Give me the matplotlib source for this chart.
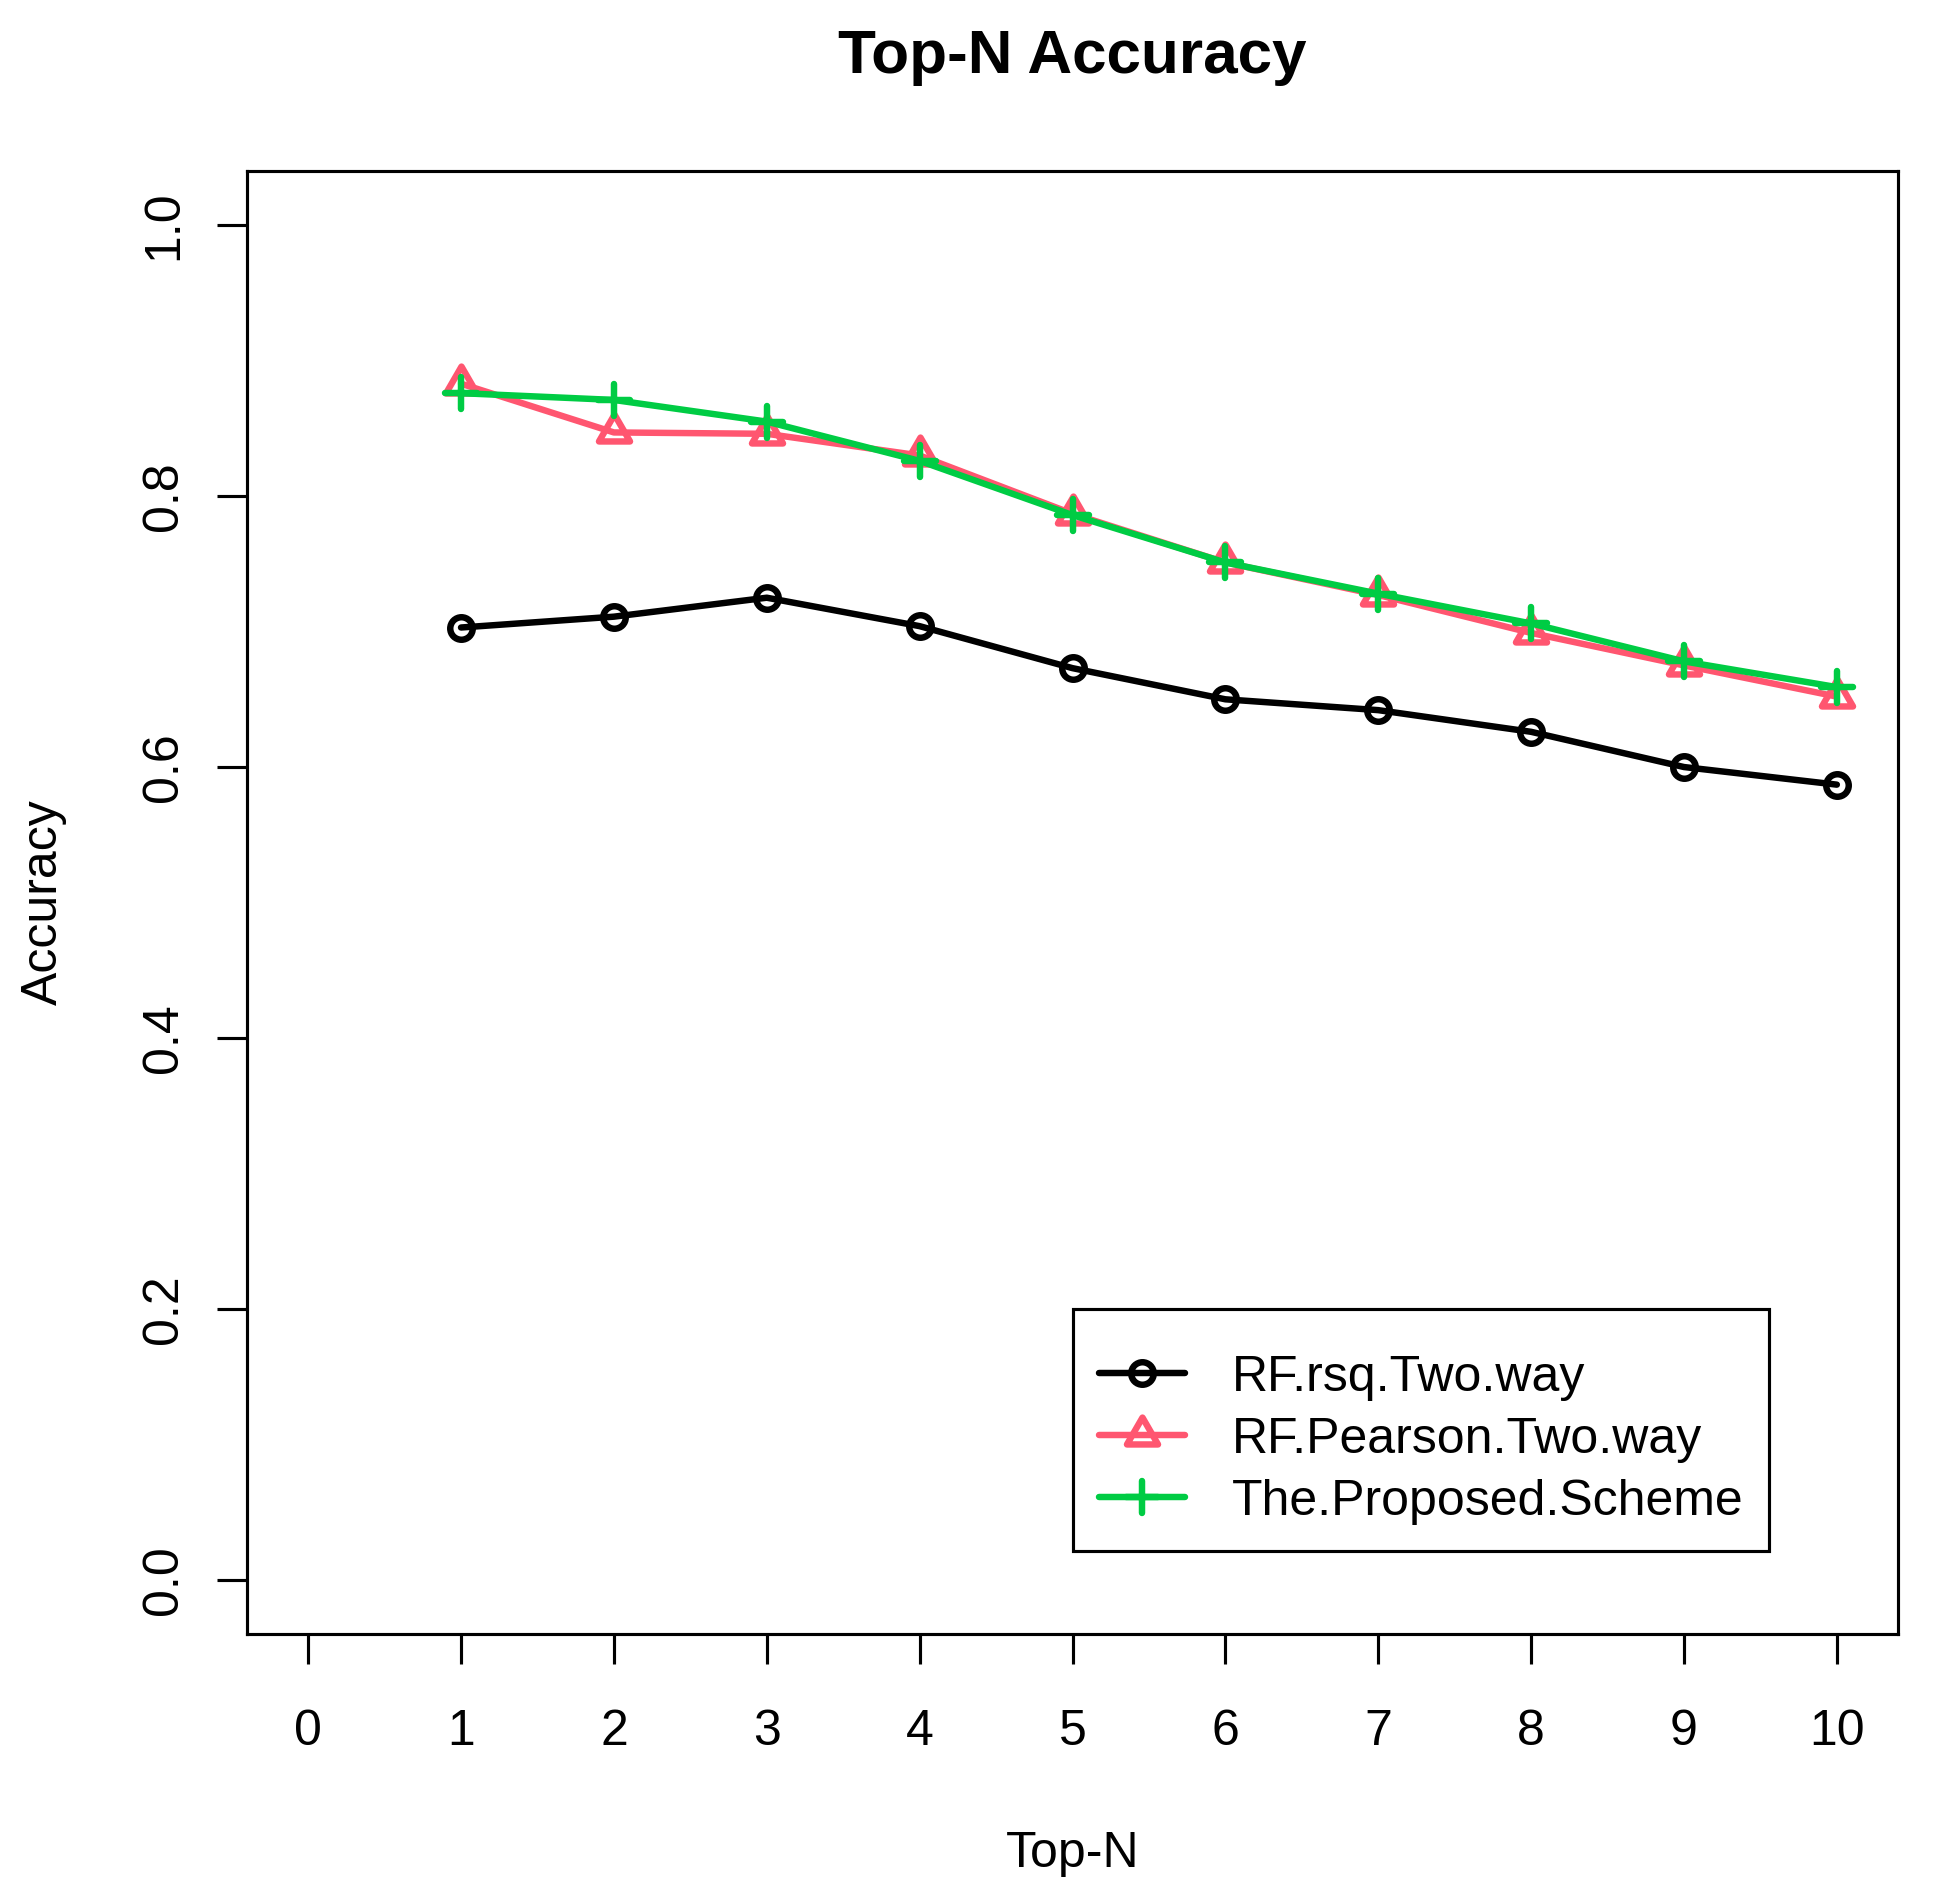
import numpy as np
import matplotlib
matplotlib.use("Agg")
import matplotlib.pyplot as plt
from matplotlib.path import Path
from matplotlib.markers import MarkerStyle

# ---- data ----
top_n = [1, 2, 3, 4, 5, 6, 7, 8, 9, 10]
rf_rsq = [0.703, 0.711, 0.725, 0.704, 0.673, 0.650, 0.642, 0.626, 0.600, 0.587]
rf_pearson = [0.883, 0.847, 0.846, 0.830, 0.787, 0.751, 0.727, 0.699, 0.675, 0.652]
proposed = [0.876, 0.871, 0.855, 0.826, 0.786, 0.751, 0.728, 0.706, 0.678, 0.659]
series_names = ["RF.rsq.Two.way", "RF.Pearson.Two.way", "The.Proposed.Scheme"]
x_ticks = [0, 1, 2, 3, 4, 5, 6, 7, 8, 9, 10]
y_ticks = [0.0, 0.2, 0.4, 0.6, 0.8, 1.0]
y_tick_labels = ["0.0", "0.2", "0.4", "0.6", "0.8", "1.0"]

plt.rcParams['font.family'] = ['Liberation Sans', 'DejaVu Sans']

DPI = 300
fig = plt.figure(figsize=(1941 / DPI, 1895 / DPI), dpi=DPI)
ax = fig.add_axes([247 / 1941, 1 - 1634 / 1895, (1898 - 247) / 1941, (1634 - 171) / 1895])

LW = 1.55
black = "#000000"
red = "#FF5670"
green = "#00CC44"

# R-style triangle (centroid at origin)
tri = MarkerStyle(Path([(0, 1.555), (1.347, -0.778), (-1.347, -0.778), (0, 1.555)],
                       [Path.MOVETO, Path.LINETO, Path.LINETO, Path.CLOSEPOLY]),
                  joinstyle='miter')
plus = MarkerStyle('+', capstyle='round')

ax.plot(top_n, rf_rsq, color=black, lw=LW, marker='o', ms=5.4, mfc='none',
        mew=LW, mec=black, solid_capstyle='round', label=series_names[0])
ax.plot(top_n, rf_pearson, color=red, lw=LW, marker=tri, ms=8.6, mfc='none',
        mew=LW, mec=red, solid_capstyle='round', label=series_names[1])
ax.plot(top_n, proposed, color=green, lw=LW, marker=plus, ms=7.7,
        mew=LW, mec=green, solid_capstyle='round', label=series_names[2])

ax.set_xlim(-0.4, 10.4)
ax.set_ylim(-0.04, 1.04)
ax.set_xticks(x_ticks)
ax.set_xticklabels([str(t) for t in x_ticks])
ax.set_yticks(y_ticks)
ax.set_yticklabels(y_tick_labels, rotation=90, va='center')

for s in ax.spines.values():
    s.set_linewidth(0.75)
    s.set_color('black')
ax.tick_params(axis='both', direction='out', length=7.2, width=0.75, labelsize=12, colors='black')
ax.tick_params(axis='x', pad=10.8)
ax.tick_params(axis='y', pad=7.2)

ax.set_xlabel("Top-N", fontsize=12)
ax.xaxis.set_label_coords(0.5, -0.1346)
ax.xaxis.label.set_va('top')
ax.set_ylabel("Accuracy", fontsize=12)
ax.yaxis.set_label_coords(-0.109, 0.5)

ax.set_title("Top-N Accuracy", fontsize=14.9, fontweight='bold', y=1.067, pad=0, va='baseline')

leg = ax.legend(loc='upper left', bbox_to_anchor=(5.0, 0.2), bbox_transform=ax.transData,
                fontsize=12, frameon=True, fancybox=False, framealpha=1, edgecolor='black',
                borderpad=0.52, borderaxespad=0, handlelength=1.72, handletextpad=0.94,
                labelspacing=0.32, numpoints=1, title=' ', title_fontsize=1.0)
leg.get_frame().set_linewidth(0.75)

fig.savefig("out.png", dpi=DPI, facecolor='white')
